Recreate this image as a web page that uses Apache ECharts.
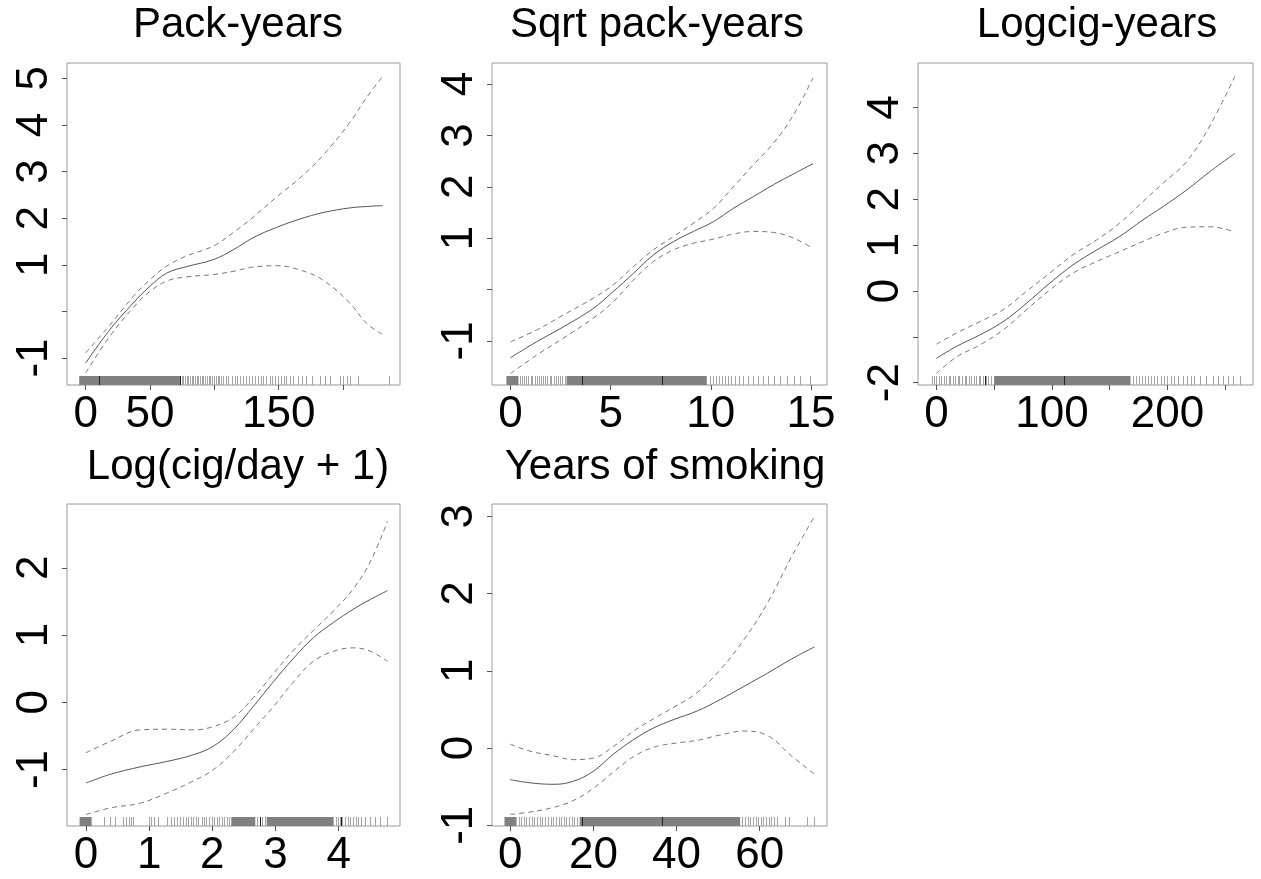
<!DOCTYPE html>
<html><head><meta charset="utf-8">
<script src="https://cdn.jsdelivr.net/npm/echarts@6/dist/echarts.min.js"></script>
<style>html,body{margin:0;padding:0;background:#fff}#c{width:1261px;height:879px}</style>
</head><body><div id="c"></div>
<script>
// ---------- data ----------
const titles = ['Pack-years', 'Sqrt pack-years', 'Logcig-years', 'Log(cig/day + 1)', 'Years of smoking'];

// Panel 1: Pack-years
const p1X     = [0, 18.9, 37, 50, 62.9, 78.4, 99.1, 114.6, 130.1, 148.2, 166.4, 184.5, 205.2, 218.1, 231];
const p1Fit   = [-1.11, -0.39, 0.18, 0.54, 0.82, 0.96, 1.11, 1.32, 1.58, 1.80, 1.98, 2.12, 2.22, 2.25, 2.27];
const p1Upper = [-0.89, -0.29, 0.32, 0.68, 0.97, 1.19, 1.40, 1.69, 2.02, 2.45, 2.86, 3.35, 4.05, 4.58, 5.05];
const p1Lower = [-1.32, -0.53, 0.08, 0.43, 0.65, 0.74, 0.79, 0.86, 0.95, 0.98, 0.89, 0.67, 0.18, -0.25, -0.5];
const p1XTicks = [0, 50, 100, 150, 200];
const p1XLabels = [0, 50, 150];
const p1YTicks = [-1, 0, 1, 2, 3, 4, 5];
const p1YLabels = [-1, 1, 2, 3, 4, 5];
const p1RugBands = [[-5, 73.6]];
const p1RugTicks = [74.5, 75.8, 77, 78.5, 79.6, 81, 82.3, 83.5, 85, 86.2, 87.5, 89, 90.3, 91.5, 93, 94.2, 95.5, 97, 98.3, 99.5, 101, 102.5, 104, 105.5, 107, 109, 111, 113.5, 116, 118, 120, 122.5, 125, 127, 129, 131.5, 134, 136, 138, 140.5, 143, 145, 147, 149.5, 152, 154, 156, 159, 161, 165, 168, 171, 175.7, 182, 186, 190, 198, 200, 203, 205.5, 212, 236];
const p1RugHeavy = [10.6, 73.6];

// Panel 2: Sqrt pack-years
const p2X     = [0, 1.3, 2.63, 4.13, 5.13, 6.13, 7.13, 8.13, 9.13, 10.13, 11.13, 12.13, 13.13, 14.13, 15.1];
const p2Fit   = [-1.33, -1.02, -0.73, -0.37, -0.04, 0.31, 0.67, 0.93, 1.13, 1.32, 1.58, 1.81, 2.04, 2.25, 2.45];
const p2Upper = [-1.02, -0.79, -0.5, -0.17, 0.09, 0.44, 0.77, 1.03, 1.29, 1.58, 2.0, 2.43, 2.85, 3.40, 4.12];
const p2Lower = [-1.64, -1.28, -0.95, -0.56, -0.24, 0.18, 0.54, 0.77, 0.90, 0.98, 1.08, 1.13, 1.11, 1.0, 0.8];
const p2XTicks = [0, 5, 10, 15];
const p2XLabels = [0, 5, 10, 15];
const p2YTicks = [-1, 0, 1, 2, 3, 4];
const p2YLabels = [-1, 1, 2, 3, 4];
const p2RugBands = [[-0.2, 0.4], [2.8, 9.8]];
const p2RugTicks = [0.48, 0.6, 0.66, 0.8, 0.9, 1.02, 1.1, 1.22, 1.35, 1.42, 1.55, 1.62, 1.74, 1.85, 1.95, 2.04, 2.15, 2.26, 2.38, 2.46, 2.58, 2.7, 9.95, 10.1, 10.25, 10.4, 10.55, 10.7, 10.85, 11.0, 11.2, 11.4, 11.6, 11.88, 12.13, 12.38, 12.63, 12.88, 13.13, 13.47, 13.8, 14.13, 14.47, 14.97];
const p2RugHeavy = [3.55, 7.55];

// Panel 3: Logcig-years
const p3X     = [0, 17.3, 37.5, 57.7, 77.9, 98.1, 118.3, 138.5, 158.7, 178.8, 196.2, 216.5, 236.6, 258.3];
const p3Fit   = [-1.47, -1.21, -0.96, -0.67, -0.27, 0.17, 0.57, 0.89, 1.19, 1.55, 1.84, 2.20, 2.60, 3.0];
const p3Upper = [-1.16, -0.92, -0.67, -0.41, -0.01, 0.39, 0.79, 1.11, 1.48, 1.95, 2.35, 2.82, 3.6, 4.68];
const p3Lower = [-1.80, -1.44, -1.18, -0.85, -0.41, 0.02, 0.39, 0.64, 0.86, 1.08, 1.26, 1.39, 1.40, 1.29];
const p3XTicks = [0, 50, 100, 150, 200, 250];
const p3XLabels = [0, 100, 200];
const p3YTicks = [-2, -1, 0, 1, 2, 3, 4];
const p3YLabels = [-2, 0, 1, 2, 3, 4];
const p3RugBands = [[50, 168]];
const p3RugTicks = [-4, -2, 0, 2.5, 4, 6.5, 8, 10.5, 12, 14.5, 16, 18.5, 20, 22.5, 24.5, 26, 28.5, 30, 32.5, 34, 36.5, 38, 40.5, 43, 45, 47.5, 170.5, 173, 175.5, 178, 180.5, 183, 186, 188.5, 191, 194, 197, 200, 203, 206, 209.5, 213, 216.5, 220, 223, 228, 233.5, 239.5, 243.8, 248.1, 252.4, 256.8, 262.6];
const p3RugHeavy = [41.9, 110.4];

// Panel 4: Log(cig/day + 1)
const p4X     = [0, 0.39, 0.86, 1.28, 1.70, 2.02, 2.34, 2.65, 2.97, 3.29, 3.60, 3.92, 4.24, 4.50, 4.77];
const p4Fit   = [-1.20, -1.07, -0.96, -0.88, -0.78, -0.65, -0.40, -0.06, 0.31, 0.66, 0.96, 1.19, 1.39, 1.53, 1.66];
const p4Upper = [-0.75, -0.58, -0.41, -0.40, -0.41, -0.36, -0.22, 0.07, 0.43, 0.78, 1.07, 1.36, 1.70, 2.09, 2.69];
const p4Lower = [-1.67, -1.57, -1.50, -1.35, -1.17, -1.0, -0.73, -0.40, -0.06, 0.31, 0.61, 0.76, 0.81, 0.76, 0.61];
const p4XTicks = [0, 1, 2, 3, 4];
const p4XLabels = [0, 1, 2, 3, 4];
const p4YTicks = [-1, 0, 1, 2];
const p4YLabels = [-1, 0, 1, 2];
const p4RugBands = [[-0.1, 0.09], [2.3, 2.68], [2.86, 3.92]];
const p4RugTicks = [0.28, 0.38, 0.46, 0.59, 0.63, 0.68, 0.72, 0.75, 0.99, 1.03, 1.08, 1.14, 1.29, 1.34, 1.39, 1.44, 1.49, 1.54, 1.58, 1.62, 1.67, 1.7, 1.74, 1.78, 1.83, 1.87, 1.9, 1.95, 1.99, 2.03, 2.07, 2.11, 2.15, 2.19, 2.23, 2.27, 2.71, 2.75, 2.79, 2.83, 3.95, 3.99, 4.02, 4.06, 4.1, 4.14, 4.18, 4.22, 4.27, 4.31, 4.36, 4.41, 4.5, 4.58, 4.66, 4.76];
const p4RugHeavy = [2.76, 4.03];

// Panel 5: Years of smoking
const p5X     = [0, 4.7, 10.3, 15.2, 20, 24.8, 29.7, 34.5, 39.4, 45, 50.6, 56.3, 61.9, 67.6, 73.2];
const p5Fit   = [-0.41, -0.45, -0.47, -0.43, -0.30, -0.08, 0.11, 0.26, 0.37, 0.48, 0.63, 0.80, 0.97, 1.15, 1.31];
const p5Upper = [0.05, -0.04, -0.10, -0.15, -0.13, 0.02, 0.22, 0.38, 0.53, 0.72, 1.02, 1.41, 1.88, 2.47, 3.0];
const p5Lower = [-0.86, -0.83, -0.77, -0.68, -0.52, -0.31, -0.11, 0.01, 0.06, 0.10, 0.17, 0.22, 0.16, -0.10, -0.34];
const p5XTicks = [0, 20, 40, 60];
const p5XLabels = [0, 20, 40, 60];
const p5YTicks = [-1, 0, 1, 2, 3];
const p5YLabels = [-1, 0, 1, 2, 3];
const p5RugBands = [[-1.4, 1.5], [16.7, 55.3]];
const p5RugTicks = [2.0, 2.6, 3.3, 3.9, 4.5, 5.2, 5.8, 6.5, 7.1, 7.7, 8.4, 9.0, 9.7, 10.3, 10.9, 11.6, 12.2, 12.9, 13.5, 14.1, 14.8, 15.4, 16.1, 55.8, 56.4, 57.1, 57.7, 58.3, 59.0, 59.6, 60.3, 60.9, 61.5, 62.2, 62.8, 63.5, 64.1, 66.2, 67, 71.4, 73];
const p5RugHeavy = [17.2, 36.4];

// ---------- layout ----------
const panels = [
  {x: p1X, fit: p1Fit, up: p1Upper, lo: p1Lower, xt: p1XTicks, xl: p1XLabels, yt: p1YTicks, yl: p1YLabels, rb: p1RugBands, rt: p1RugTicks, rh: p1RugHeavy,
   box: {left: 67, top: 63, width: 333, height: 322}, xr: [-14.5, 244.3], yr: [-1.58, 5.33], tc: 233, tt: -1},
  {x: p2X, fit: p2Fit, up: p2Upper, lo: p2Lower, xt: p2XTicks, xl: p2XLabels, yt: p2YTicks, yl: p2YLabels, rb: p2RugBands, rt: p2RugTicks, rh: p2RugHeavy,
   box: {left: 492, top: 63, width: 335, height: 322}, xr: [-0.92, 15.8], yr: [-1.86, 4.41], tc: 652, tt: -1},
  {x: p3X, fit: p3Fit, up: p3Upper, lo: p3Lower, xt: p3XTicks, xl: p3XLabels, yt: p3YTicks, yl: p3YLabels, rb: p3RugBands, rt: p3RugTicks, rh: p3RugHeavy,
   box: {left: 918, top: 63, width: 335, height: 322}, xr: [-15.9, 274], yr: [-2.05, 4.97], tc: 1092, tt: -1},
  {x: p4X, fit: p4Fit, up: p4Upper, lo: p4Lower, xt: p4XTicks, xl: p4XLabels, yt: p4YTicks, yl: p4YLabels, rb: p4RugBands, rt: p4RugTicks, rh: p4RugHeavy,
   box: {left: 67, top: 504, width: 333, height: 322}, xr: [-0.30, 4.97], yr: [-1.84, 2.95], tc: 233, tt: 441},
  {x: p5X, fit: p5Fit, up: p5Upper, lo: p5Lower, xt: p5XTicks, xl: p5XLabels, yt: p5YTicks, yl: p5YLabels, rb: p5RugBands, rt: p5RugTicks, rh: p5RugHeavy,
   box: {left: 492, top: 504, width: 335, height: 322}, xr: [-4.4, 76.2], yr: [-1.01, 3.16], tc: 660, tt: 441}
];

const FONT = '"Liberation Sans", Arial, Helvetica, sans-serif';

function rugItem(params, api) {
  const k = api.value(2);
  const a = api.coord([api.value(0), 0])[0];
  const b = api.coord([api.value(1), 0])[0];
  const cs = params.coordSys;
  const bottom = cs.y + cs.height;
  if (k === 1) {
    return {type: 'rect', shape: {x: a, y: bottom - 9, width: Math.max(1, b - a), height: 9}, style: {fill: '#808080'}};
  }
  const xx = Math.round(a) + 0.5;
  return {type: 'line', shape: {x1: xx, y1: bottom - 9, x2: xx, y2: bottom},
          style: {stroke: k === 2 ? '#222' : '#a3a3a3', lineWidth: 1}};
}

const option = {
  animation: false,
  backgroundColor: '#fff',
  title: [], grid: [], xAxis: [], yAxis: [], series: []
};

panels.forEach((p, i) => {
  option.title.push({text: titles[i], left: p.tc, top: p.tt, textAlign: 'center',
    textStyle: {fontFamily: FONT, fontSize: 42, fontWeight: 'normal', color: '#000'}});
  option.grid.push(Object.assign({show: true, borderColor: '#9a9a9a', borderWidth: 1, backgroundColor: 'transparent', containLabel: false}, p.box));
  option.xAxis.push({type: 'value', gridIndex: i, min: p.xr[0], max: p.xr[1],
    axisLine: {show: false, onZero: false}, splitLine: {show: false},
    axisTick: {show: true, length: 5, customValues: p.xt, lineStyle: {color: '#555'}},
    axisLabel: {customValues: p.xl, fontFamily: FONT, fontSize: 44, color: '#000', margin: 8}});
  option.yAxis.push({type: 'value', gridIndex: i, min: p.yr[0], max: p.yr[1],
    axisLine: {show: false, onZero: false}, splitLine: {show: false},
    axisTick: {show: true, length: 5, customValues: p.yt, lineStyle: {color: '#555'}},
    axisLabel: {customValues: p.yl, rotate: 90, fontFamily: FONT, fontSize: 44, color: '#000', margin: 10}});
  const rugData = p.rb.map(b => [b[0], b[1], 1])
    .concat(p.rt.map(t => [t, t, 0]))
    .concat(p.rh.map(t => [t, t, 2]));
  option.series.push({type: 'custom', xAxisIndex: i, yAxisIndex: i, renderItem: rugItem,
    encode: {x: [0, 1], y: 2}, data: rugData, silent: true, z: 1});
  const mk = arr => p.x.map((x, j) => [x, arr[j]]);
  option.series.push({type: 'line', xAxisIndex: i, yAxisIndex: i, data: mk(p.fit), smooth: 0.4,
    showSymbol: false, lineStyle: {color: '#555', width: 1}, z: 3, silent: true});
  option.series.push({type: 'line', xAxisIndex: i, yAxisIndex: i, data: mk(p.up), smooth: 0.4,
    showSymbol: false, lineStyle: {color: '#777', width: 1, type: [5, 4]}, z: 3, silent: true});
  option.series.push({type: 'line', xAxisIndex: i, yAxisIndex: i, data: mk(p.lo), smooth: 0.4,
    showSymbol: false, lineStyle: {color: '#777', width: 1, type: [5, 4]}, z: 3, silent: true});
});

const chart = echarts.init(document.getElementById('c'), null, {renderer: 'canvas'});
chart.setOption(option);
</script>
</body></html>
